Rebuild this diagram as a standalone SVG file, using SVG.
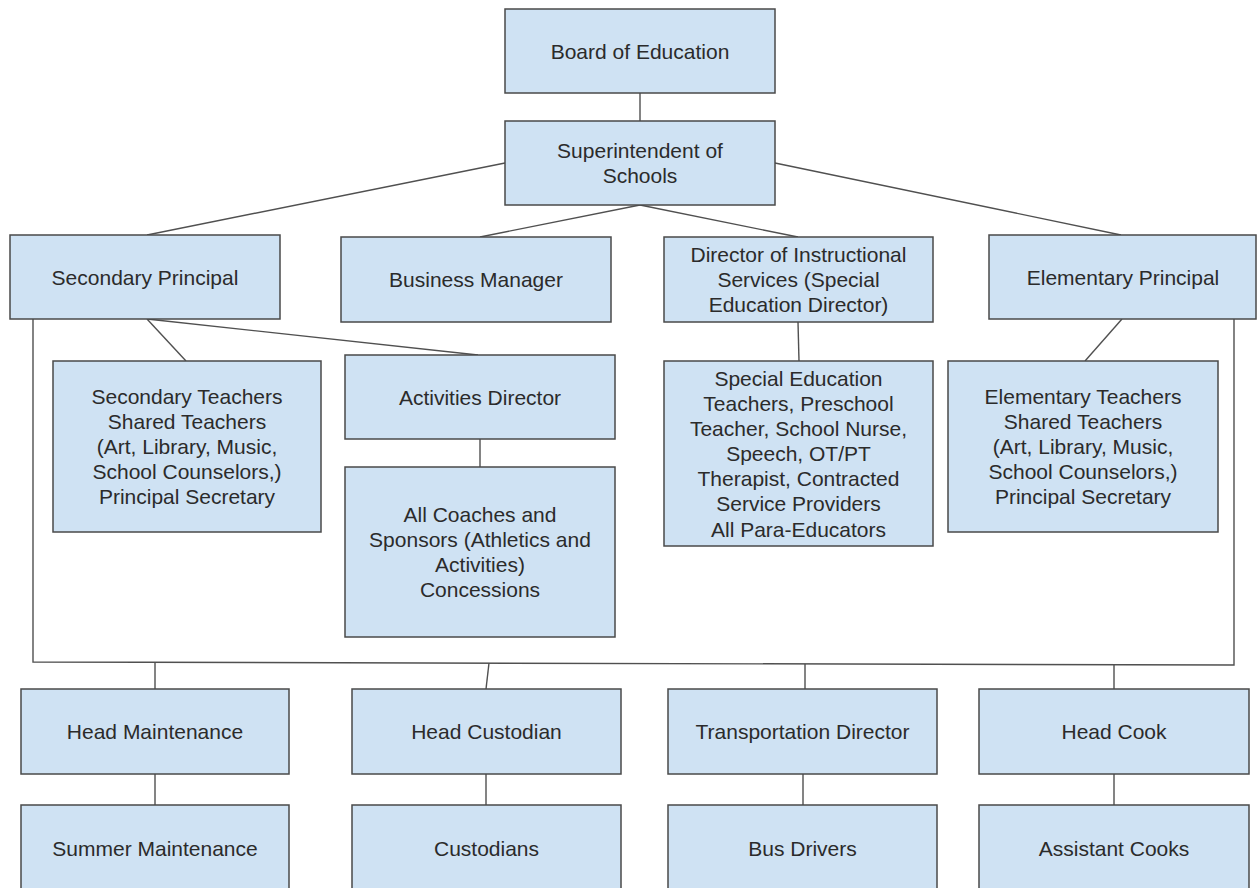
<svg xmlns="http://www.w3.org/2000/svg" width="1257" height="888" viewBox="0 0 1257 888">
<style>
.box{fill:#cfe2f3;stroke:#4a4a4a;stroke-width:1.5}
.t{font-family:"Liberation Sans",Arial,sans-serif;font-size:21px;fill:#2b2b2b;text-anchor:middle}
.c{fill:none;stroke:#505050;stroke-width:1.4}
</style>
<rect width="1257" height="888" fill="#ffffff"/>
<g id="connectors">
<line class="c" x1="640" y1="93" x2="640" y2="121"/>
<line class="c" x1="505" y1="163" x2="147" y2="235"/>
<line class="c" x1="640" y1="205" x2="480" y2="237"/>
<line class="c" x1="640" y1="205" x2="798" y2="237"/>
<line class="c" x1="775" y1="163" x2="1121" y2="235"/>
<line class="c" x1="147" y1="319" x2="186" y2="361"/>
<line class="c" x1="147" y1="319" x2="478" y2="355"/>
<line class="c" x1="480" y1="439" x2="480" y2="467"/>
<line class="c" x1="798" y1="322" x2="799" y2="361"/>
<line class="c" x1="1122" y1="319" x2="1085" y2="361"/>
<polyline class="c" points="33,319 33,662 1234,665 1234,319"/>
<line class="c" x1="155" y1="662" x2="155" y2="689"/>
<line class="c" x1="489" y1="663" x2="486" y2="689"/>
<line class="c" x1="805" y1="664" x2="805" y2="689"/>
<line class="c" x1="1114" y1="665" x2="1114" y2="689"/>
<line class="c" x1="155" y1="774" x2="155" y2="805"/>
<line class="c" x1="486" y1="774" x2="486" y2="805"/>
<line class="c" x1="803" y1="774" x2="803" y2="805"/>
<line class="c" x1="1114" y1="774" x2="1114" y2="805"/>
</g>
<g id="board"><rect class="box" x="505" y="9" width="270" height="84"/><text class="t" x="640" y="59">Board of Education</text></g>
<g id="superintendent"><rect class="box" x="505" y="121" width="270" height="84"/><text class="t" x="640" y="158">Superintendent of</text><text class="t" x="640" y="183">Schools</text></g>
<g id="secondary-principal"><rect class="box" x="10" y="235" width="270" height="84"/><text class="t" x="145" y="285">Secondary Principal</text></g>
<g id="business-manager"><rect class="box" x="341" y="237" width="270" height="85"/><text class="t" x="476" y="287">Business Manager</text></g>
<g id="director-instructional"><rect class="box" x="664" y="237" width="269" height="85"/><text class="t" x="798.5" y="262">Director of Instructional</text><text class="t" x="798.5" y="287">Services (Special</text><text class="t" x="798.5" y="312">Education Director)</text></g>
<g id="elementary-principal"><rect class="box" x="989" y="235" width="267" height="84"/><text class="t" x="1123" y="285">Elementary Principal</text></g>
<g id="secondary-teachers"><rect class="box" x="53" y="361" width="268" height="171"/><text class="t" x="187" y="404">Secondary Teachers</text><text class="t" x="187" y="429">Shared Teachers</text><text class="t" x="187" y="454">(Art, Library, Music,</text><text class="t" x="187" y="479">School Counselors,)</text><text class="t" x="187" y="504">Principal Secretary</text></g>
<g id="activities-director"><rect class="box" x="345" y="355" width="270" height="84"/><text class="t" x="480" y="405">Activities Director</text></g>
<g id="coaches"><rect class="box" x="345" y="467" width="270" height="170"/><text class="t" x="480" y="522">All Coaches and</text><text class="t" x="480" y="547">Sponsors (Athletics and</text><text class="t" x="480" y="572">Activities)</text><text class="t" x="480" y="597">Concessions</text></g>
<g id="special-education"><rect class="box" x="664" y="361" width="269" height="185"/><text class="t" x="798.5" y="386">Special Education</text><text class="t" x="798.5" y="411">Teachers, Preschool</text><text class="t" x="798.5" y="436">Teacher, School Nurse,</text><text class="t" x="798.5" y="461">Speech, OT/PT</text><text class="t" x="798.5" y="486">Therapist, Contracted</text><text class="t" x="798.5" y="511">Service Providers</text><text class="t" x="798.5" y="537">All Para-Educators</text></g>
<g id="elementary-teachers"><rect class="box" x="948" y="361" width="270" height="171"/><text class="t" x="1083" y="404">Elementary Teachers</text><text class="t" x="1083" y="429">Shared Teachers</text><text class="t" x="1083" y="454">(Art, Library, Music,</text><text class="t" x="1083" y="479">School Counselors,)</text><text class="t" x="1083" y="504">Principal Secretary</text></g>
<g id="head-maintenance"><rect class="box" x="21" y="689" width="268" height="85"/><text class="t" x="155" y="739">Head Maintenance</text></g>
<g id="head-custodian"><rect class="box" x="352" y="689" width="269" height="85"/><text class="t" x="486.5" y="739">Head Custodian</text></g>
<g id="transportation-director"><rect class="box" x="668" y="689" width="269" height="85"/><text class="t" x="802.5" y="739">Transportation Director</text></g>
<g id="head-cook"><rect class="box" x="979" y="689" width="270" height="85"/><text class="t" x="1114" y="739">Head Cook</text></g>
<g id="summer-maintenance"><rect class="box" x="21" y="805" width="268" height="100"/><text class="t" x="155" y="856">Summer Maintenance</text></g>
<g id="custodians"><rect class="box" x="352" y="805" width="269" height="100"/><text class="t" x="486.5" y="856">Custodians</text></g>
<g id="bus-drivers"><rect class="box" x="668" y="805" width="269" height="100"/><text class="t" x="802.5" y="856">Bus Drivers</text></g>
<g id="assistant-cooks"><rect class="box" x="979" y="805" width="270" height="100"/><text class="t" x="1114" y="856">Assistant Cooks</text></g>
</svg>
